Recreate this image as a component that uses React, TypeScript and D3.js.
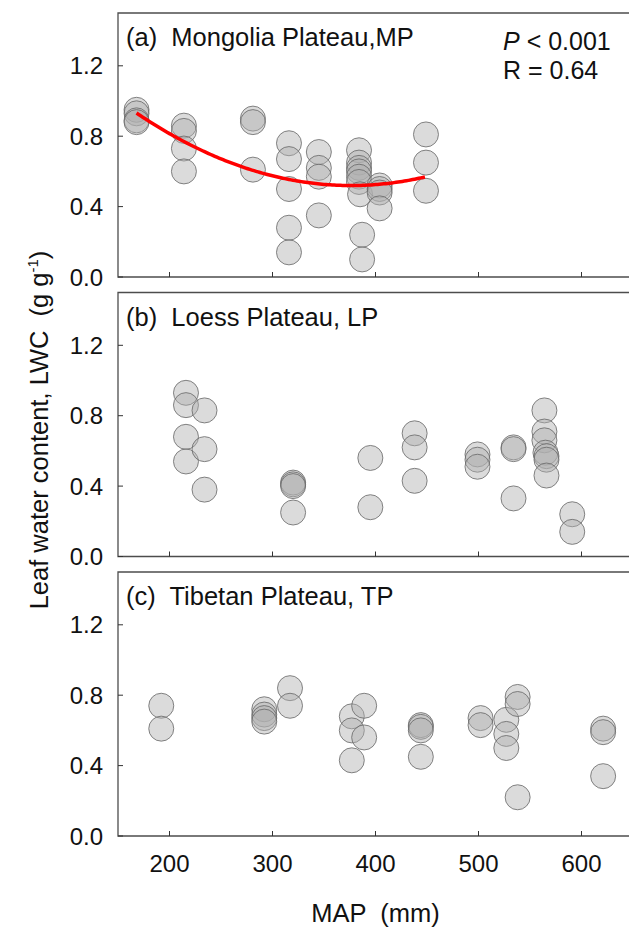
import * as d3 from "d3";
import { useEffect, useRef } from "react";

// MAP (mm) and leaf water content (g g-1), one entry per site
const mpMap = [168, 168, 168, 168, 214, 214, 214, 214, 281, 281, 281, 316, 316, 316, 316, 316, 345, 345, 345, 345,
    384, 384, 384, 384, 384, 384, 385, 387, 387, 404, 404, 404, 404, 449, 449, 449];
const mpLwc = [0.95, 0.93, 0.89, 0.88, 0.86, 0.83, 0.73, 0.60, 0.90, 0.88, 0.61, 0.76, 0.67, 0.50, 0.28, 0.14, 0.71, 0.62, 0.57, 0.35,
    0.72, 0.65, 0.62, 0.60, 0.57, 0.54, 0.47, 0.24, 0.10, 0.52, 0.50, 0.48, 0.39, 0.81, 0.65, 0.49];

const lpMap = [216, 216, 216, 216, 234, 234, 234, 320, 320, 320, 320, 395, 395, 438, 438, 438, 499, 499, 499, 534, 534, 534,
    564, 564, 564, 565, 566, 566, 566, 591, 591];
const lpLwc = [0.93, 0.86, 0.68, 0.54, 0.83, 0.61, 0.38, 0.42, 0.41, 0.40, 0.25, 0.56, 0.28, 0.70, 0.62, 0.43, 0.58, 0.55, 0.51, 0.62, 0.61, 0.33,
    0.83, 0.71, 0.66, 0.59, 0.57, 0.55, 0.46, 0.24, 0.14];

const tpMap = [192, 192, 292, 292, 292, 292, 317, 317, 377, 377, 377, 389, 389, 444, 444, 444, 444, 502, 502, 527, 527, 527,
    538, 538, 538, 621, 621, 621];
const tpLwc = [0.74, 0.61, 0.72, 0.69, 0.67, 0.65, 0.84, 0.74, 0.68, 0.60, 0.43, 0.74, 0.56, 0.63, 0.62, 0.60, 0.45, 0.67, 0.63, 0.66, 0.58, 0.50,
    0.79, 0.75, 0.22, 0.61, 0.59, 0.34];

const panelTitles = ["(a)  Mongolia Plateau,MP", "(b)  Loess Plateau, LP", "(c)  Tibetan Plateau, TP"];
const xTicks = [200, 300, 400, 500, 600];
const yTicks = [0.0, 0.4, 0.8, 1.2];

const font = "'Liberation Sans', Arial, sans-serif";

// least squares quadratic y = c0 + c1 x + c2 x^2
function quadFit(xs: number[], ys: number[]) {
    const S = [0, 0, 0, 0, 0];
    const T = [0, 0, 0];
    xs.forEach((x, i) => {
        for (let k = 0; k < 5; k++) S[k] += Math.pow(x, k);
        for (let k = 0; k < 3; k++) T[k] += ys[i] * Math.pow(x, k);
    });
    const A = [
        [S[0], S[1], S[2], T[0]],
        [S[1], S[2], S[3], T[1]],
        [S[2], S[3], S[4], T[2]],
    ];
    for (let c = 0; c < 3; c++) {
        for (let r = c + 1; r < 3; r++) {
            const f = A[r][c] / A[c][c];
            for (let k = c; k < 4; k++) A[r][k] -= f * A[c][k];
        }
    }
    const sol = [0, 0, 0];
    for (let r = 2; r >= 0; r--) {
        let s = A[r][3];
        for (let k = r + 1; k < 3; k++) s -= A[r][k] * sol[k];
        sol[r] = s / A[r][r];
    }
    return (x: number) => sol[0] + sol[1] * x + sol[2] * x * x;
}

export default function App() {
    const svgRef = useRef(null);
    const width = 629;
    const height = 931;
    const left = 118;
    const plotW = 515;
    const plotH = 264;
    const tops = [13, 292.5, 572];

    useEffect(() => {
        const svg = d3.select(svgRef.current);
        svg.selectAll("*").remove();

        const x = d3.scaleLinear().domain([150, 650]).range([left, left + plotW]);

        const panels = [
            { xs: mpMap, ys: mpLwc },
            { xs: lpMap, ys: lpLwc },
            { xs: tpMap, ys: tpLwc },
        ];

        panels.forEach((p, i) => {
            const top = tops[i];
            const y = d3.scaleLinear().domain([0, 1.5]).range([top + plotH, top]);
            const g = svg.append("g");

            // frame
            g.append("path")
                .attr("d", `M${left + plotW},${top}H${left}V${top + plotH}H${left + plotW}`)
                .attr("fill", "none")
                .attr("stroke", "#4d4d4d")
                .attr("stroke-width", 1.3);

            // x ticks (inward)
            g.selectAll(".xt")
                .data(xTicks)
                .join("line")
                .attr("x1", d => x(d)).attr("x2", d => x(d))
                .attr("y1", top + plotH).attr("y2", top + plotH - 5)
                .attr("stroke", "#333").attr("stroke-width", 1);

            // y ticks (inward)
            g.selectAll(".yt")
                .data(yTicks)
                .join("line")
                .attr("x1", left).attr("x2", left + 5)
                .attr("y1", d => y(d)).attr("y2", d => y(d))
                .attr("stroke", "#333").attr("stroke-width", 1);

            g.selectAll(".yl")
                .data(yTicks)
                .join("text")
                .attr("x", left - 15)
                .attr("y", d => y(d))
                .attr("dy", "0.36em")
                .attr("text-anchor", "end")
                .attr("font-family", font)
                .attr("font-size", 24)
                .attr("fill", "#111")
                .text(d => d.toFixed(1));

            g.append("text")
                .attr("x", 126)
                .attr("y", top + 33)
                .attr("font-family", font)
                .attr("font-size", 25.5)
                .attr("fill", "#111")
                .style("white-space", "pre")
                .text(panelTitles[i]);

            // points
            g.selectAll("circle")
                .data(p.xs.map((v, k) => [v, p.ys[k]]))
                .join("circle")
                .attr("cx", d => x(d[0]))
                .attr("cy", d => y(d[1]))
                .attr("r", 12.5)
                .attr("fill", "#b0b0b0")
                .attr("fill-opacity", 0.45)
                .attr("stroke", "#666")
                .attr("stroke-opacity", 0.8)
                .attr("stroke-width", 1);

            if (i === 0) {
                const f = quadFit(p.xs, p.ys);
                const ext = d3.extent(p.xs) as [number, number];
                const curve = d3.range(ext[0], ext[1] + 0.5, 2).map(v => [v, f(v)]);
                g.append("path")
                    .attr("d", d3.line().x(d => x(d[0])).y(d => y(d[1]))(curve as [number, number][]))
                    .attr("fill", "none")
                    .attr("stroke", "#ff0000")
                    .attr("stroke-width", 3.5);

                const stat = g.append("text")
                    .attr("x", 503)
                    .attr("y", top + 37)
                    .attr("font-family", font)
                    .attr("font-size", 25)
                    .attr("fill", "#111");
                stat.append("tspan").attr("font-style", "italic").text("P");
                stat.append("tspan").text(" < 0.001");
                g.append("text")
                    .attr("x", 503)
                    .attr("y", top + 66)
                    .attr("font-family", font)
                    .attr("font-size", 25)
                    .attr("fill", "#111")
                    .text("R = 0.64");
            }

            if (i === 2) {
                g.selectAll(".xl")
                    .data(xTicks)
                    .join("text")
                    .attr("x", d => x(d))
                    .attr("y", top + plotH + 36)
                    .attr("text-anchor", "middle")
                    .attr("font-family", font)
                    .attr("font-size", 24)
                    .attr("fill", "#111")
                    .text(d => d);
            }
        });

        svg.append("text")
            .attr("x", left + plotW / 2)
            .attr("y", 922)
            .attr("text-anchor", "middle")
            .attr("font-family", font)
            .attr("font-size", 25.5)
            .attr("fill", "#111")
            .style("white-space", "pre")
            .text("MAP  (mm)");

        const yl = svg.append("text")
            .attr("transform", "translate(48,430) rotate(-90)")
            .attr("text-anchor", "middle")
            .attr("font-family", font)
            .attr("font-size", 25.5)
            .attr("fill", "#111")
            .style("white-space", "pre");
        yl.append("tspan").text("Leaf water content, LWC  (g g");
        yl.append("tspan").attr("font-size", 15).attr("dy", -10).text("-1");
        yl.append("tspan").attr("dy", 10).text(")");
    }, []);

    return (
        <svg ref={svgRef} width={width} height={height}
            style={{ position: "absolute", left: 0, top: 0, background: "#fff" }} />
    );
}
